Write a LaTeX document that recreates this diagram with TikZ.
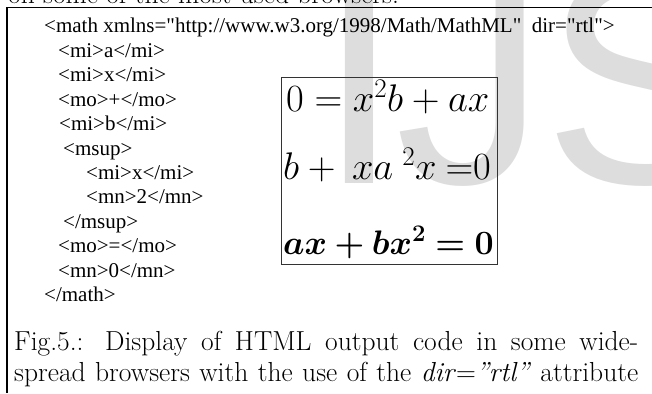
\RequirePackage{fix-cm}
\documentclass[tikz,border=0pt]{standalone}
\usepackage{amsmath,bm}
\usepackage[no-math]{fontspec}
\newfontfamily\codefont{Liberation Serif}
\newfontfamily\markfont{Liberation Sans}
\definecolor{markgray}{RGB}{221,221,221}
\tikzset{
  codeline/.style={anchor=base west, inner sep=0pt, font=\codefont\fontsize{21}{25}\selectfont},
  eqline/.style={anchor=base west, inner sep=0pt, font=\fontsize{38.5}{46}\selectfont},
  capline/.style={anchor=base west, inner sep=0pt, font=\fontsize{27.5}{33}\selectfont},
  markletter/.style={anchor=base west, inner sep=0pt, text=markgray, font=\markfont\fontsize{302}{302}\selectfont},
  eqbox/.style={draw=black!80, line width=0.8pt},
}
\begin{document}
\begin{tikzpicture}[x=1pt,y=-1pt]

		\useasboundingbox (0,0) rectangle (652,393);
		\clip (0,0) rectangle (652,393);

		% watermark %
		\node[markletter] (markI) at (317,183) {I};
		\node[markletter] (markJ) at (395,183) {J};
		\node[markletter] (markS) at (543,183) {S};

		% page frame %
		\draw[line width=1.5pt] (652,7.5) -- (7,7.5) -- (7,393);

		% line cut off above %
		\node[capline] (prevline) at (8,4) {on some of the most used browsers.};

		% MathML source %
		\node[codeline] (cMath) at (44,33) {<math xmlns="http://www.w3.org/1998/Math/MathML"~\ dir="rtl">};
		\node[codeline] (cMiA) at (58,57.4) {<mi>a</mi>};
		\node[codeline] (cMiX) at (58,81.8) {<mi>x</mi>};
		\node[codeline] (cMoPlus) at (58,106.2) {<mo>+</mo>};
		\node[codeline] (cMiB) at (59,130.6) {<mi>b</mi>};
		\node[codeline] (cMsup) at (63,155) {<msup>};
		\node[codeline] (cSupX) at (86,179.4) {<mi>x</mi>};
		\node[codeline] (cSupTwo) at (86,203.8) {<mn>2</mn>};
		\node[codeline] (cMsupEnd) at (63,228.2) {</msup>};
		\node[codeline] (cMoEq) at (58,252.6) {<mo>=</mo>};
		\node[codeline] (cMnZero) at (58,277) {<mn>0</mn>};
		\node[codeline] (cMathEnd) at (44,301.4) {</math>};

		% browser output %
		\draw[eqbox] (281,77) rectangle (497,264);
		\node[eqline] (eqA) at (286,111) {$0 = x^2b + ax$};
		\node[eqline] (eqB) at (283,179) {$b+\hspace{8pt}xa\hspace{9pt}{}^{2}x\hspace{9pt}{=}0$};
		\node[eqline, font=\fontsize{34}{41}\selectfont] (eqC) at (283,254) {$\bm{ax + bx^2 = 0}$};

		% caption %
		\node[capline] (capA) at (14,350) {\makebox[624pt][s]{Fig.5.: Display of HTML output code in some wide-}};
		\node[capline] (capB) at (14,381) {\makebox[624pt][s]{spread browsers with the use of the \textit{dir}=\textit{''rtl''} attribute}};

	\end{tikzpicture}
\end{document}
